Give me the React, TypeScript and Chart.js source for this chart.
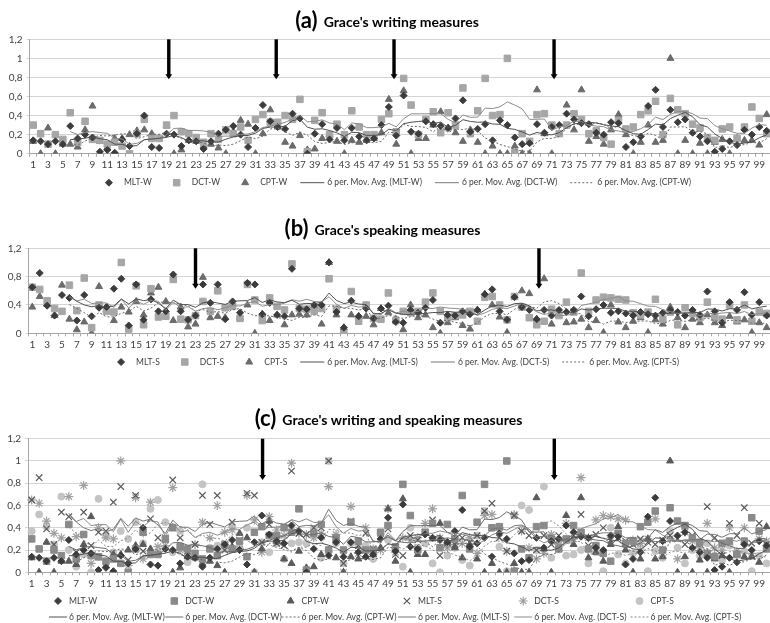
import React, { useEffect, useRef } from 'react';
import { Chart, registerables } from 'chart.js';
import { drawPoint } from 'chart.js/helpers';

Chart.register(...registerables);

// ---------- data ----------
const categories = Array.from({ length: 100 }, (_, i) => String(i + 1));

const mltW = [
  0.14, 0.13, 0.10, 0.13, 0.10, 0.29, 0.16, 0.20, 0.17, 0.02,
  0.04, 0.01, 0.15, 0.08, 0.21, 0.40, 0.07, 0.06, 0.21, 0.20,
  0.08, 0.14, 0.13, 0.05, 0.13, 0.21, 0.25, 0.29, 0.20, 0.07,
  0.27, 0.51, 0.34, 0.28, 0.26, 0.42, 0.37, 0.00, 0.21, 0.31,
  0.15, 0.27, 0.14, 0.27, 0.18, 0.14, 0.16, 0.30, 0.49, 0.19,
  0.61, 0.23, 0.21, 0.34, 0.31, 0.29, 0.27, 0.37, 0.56, 0.23,
  0.26, 0.31, 0.14, 0.35, 0.30, 0.17, 0.10, 0.11, 0.31, 0.22,
  0.28, 0.30, 0.42, 0.36, 0.32, 0.31, 0.22, 0.20, 0.33, 0.32,
  0.07, 0.12, 0.18, 0.50, 0.67, 0.28, 0.46, 0.33, 0.36, 0.22,
  0.18, 0.13, 0.02, 0.05, 0.13, 0.09, 0.25, 0.20, 0.28, 0.24,
];
const dctW = [
  0.30, 0.21, 0.10, 0.20, 0.15, 0.43, 0.12, 0.34, 0.15, 0.14,
  0.10, 0.12, 0.08, 0.00, 0.21, 0.36, 0.16, 0.16, 0.30, 0.40,
  0.23, 0.21, 0.17, 0.12, 0.21, 0.15, 0.25, 0.21, 0.28, 0.14,
  0.36, 0.41, 0.33, 0.33, 0.40, 0.36, 0.57, 0.02, 0.35, 0.43,
  0.20, 0.31, 0.20, 0.45, 0.28, 0.20, 0.20, 0.36, 0.42, 0.23,
  0.79, 0.51, 0.20, 0.36, 0.44, 0.22, 0.43, 0.30, 0.69, 0.21,
  0.45, 0.79, 0.40, 0.41, 1.00, 0.01, 0.21, 0.13, 0.41, 0.42,
  0.30, 0.21, 0.30, 0.42, 0.36, 0.21, 0.24, 0.17, 0.10, 0.35,
  0.26, 0.28, 0.41, 0.45, 0.55, 0.20, 0.58, 0.46, 0.42, 0.31,
  0.27, 0.17, 0.14, 0.26, 0.28, 0.16, 0.28, 0.49, 0.37, 0.21,
];
const cptW = [
  0.13, 0.00, 0.27, 0.00, 0.10, 0.10, 0.07, 0.25, 0.50, 0.13,
  0.06, 0.16, 0.16, 0.20, 0.24, 0.25, 0.21, 0.16, 0.29, 0.00,
  0.04, 0.14, 0.13, 0.08, 0.10, 0.06, 0.00, 0.23, 0.35, 0.31,
  0.00, 0.21, 0.46, 0.28, 0.12, 0.08, 0.19, 0.04, 0.05, 0.16,
  0.20, 0.13, 0.00, 0.14, 0.12, 0.14, 0.16, 0.22, 0.57, 0.10,
  0.66, 0.00, 0.16, 0.16, 0.30, 0.44, 0.27, 0.22, 0.13, 0.25,
  0.12, 0.00, 0.08, 0.00, 0.00, 0.08, 0.00, 0.00, 0.67, 0.21,
  0.00, 0.21, 0.51, 0.25, 0.67, 0.13, 0.18, 0.10, 0.25, 0.41,
  0.20, 0.00, 0.12, 0.30, 0.12, 0.14, 1.00, 0.00, 0.14, 0.00,
  0.11, 0.00, 0.12, 0.15, 0.00, 0.16, 0.14, 0.14, 0.09, 0.41,
];
const mltS = [
  0.65, 0.85, 0.39, 0.25, 0.54, 0.50, 0.18, 0.54, 0.24, 0.36,
  0.37, 0.63, 0.77, 0.11, 0.69, 0.19, 0.48, 0.31, 0.31, 0.83,
  0.31, 0.19, 0.25, 0.69, 0.43, 0.69, 0.20, 0.45, 0.29, 0.71,
  0.69, 0.27, 0.43, 0.26, 0.24, 0.91, 0.35, 0.34, 0.40, 0.40,
  1.00, 0.30, 0.08, 0.46, 0.24, 0.35, 0.21, 0.35, 0.39, 0.16,
  0.15, 0.33, 0.29, 0.36, 0.47, 0.15, 0.26, 0.25, 0.31, 0.27,
  0.33, 0.55, 0.62, 0.31, 0.19, 0.51, 0.37, 0.33, 0.20, 0.33,
  0.25, 0.33, 0.30, 0.33, 0.52, 0.24, 0.34, 0.40, 0.29, 0.31,
  0.28, 0.25, 0.30, 0.27, 0.25, 0.29, 0.33, 0.30, 0.25, 0.33,
  0.26, 0.59, 0.31, 0.15, 0.44, 0.33, 0.58, 0.26, 0.44, 0.25,
];
const dctS = [
  0.65, 0.62, 0.46, 0.35, 0.31, 0.68, 0.32, 0.78, 0.08, 0.40,
  0.31, 0.30, 1.00, 0.06, 0.67, 0.12, 0.63, 0.23, 0.24, 0.76,
  0.20, 0.19, 0.25, 0.45, 0.31, 0.60, 0.36, 0.38, 0.21, 0.69,
  0.47, 0.18, 0.50, 0.38, 0.33, 0.98, 0.35, 0.34, 0.31, 0.35,
  0.77, 0.34, 0.00, 0.59, 0.17, 0.40, 0.21, 0.20, 0.57, 0.18,
  0.31, 0.29, 0.31, 0.44, 0.57, 0.31, 0.22, 0.25, 0.26, 0.31,
  0.17, 0.51, 0.52, 0.40, 0.19, 0.52, 0.37, 0.22, 0.12, 0.17,
  0.34, 0.25, 0.44, 0.30, 0.85, 0.31, 0.47, 0.51, 0.50, 0.48,
  0.47, 0.29, 0.26, 0.30, 0.48, 0.20, 0.30, 0.12, 0.36, 0.28,
  0.22, 0.44, 0.22, 0.20, 0.40, 0.19, 0.40, 0.17, 0.30, 0.28,
];
const cptS = [
  0.37, 0.52, 0.41, 0.25, 0.68, 0.20, 0.05, 0.16, 0.00, 0.66,
  0.33, 0.18, 0.37, 0.30, 0.45, 0.26, 0.57, 0.65, 0.45, 0.18,
  0.37, 0.09, 0.13, 0.79, 0.22, 0.24, 0.22, 0.41, 0.22, 0.40,
  0.00, 0.27, 0.18, 0.26, 0.12, 0.26, 0.27, 0.26, 0.39, 0.13,
  1.00, 0.26, 0.08, 0.26, 0.24, 0.24, 0.12, 0.35, 0.29, 0.20,
  0.05, 0.40, 0.22, 0.26, 0.08, 0.00, 0.15, 0.22, 0.11, 0.06,
  0.33, 0.55, 0.40, 0.23, 0.01, 0.51, 0.60, 0.56, 0.20, 0.77,
  0.13, 0.25, 0.15, 0.16, 0.20, 0.08, 0.18, 0.01, 0.40, 0.16,
  0.08, 0.17, 0.22, 0.01, 0.19, 0.13, 0.37, 0.22, 0.08, 0.20,
  0.15, 0.26, 0.15, 0.11, 0.24, 0.16, 0.19, 0.01, 0.15, 0.08,
];

// arrow annotations: category positions and the value where the arrow tip ends
const arrowsA = [19.3, 33.8, 49.7, 71.3];
const arrowTipA = 0.78;
const arrowsB = [23.0, 69.3];
const arrowTipB = 0.63;
const arrowsC = [32.1, 71.4];
const arrowTipC = 0.83;

const yMin = 0;
const yMax = 1.2;
const yStep = 0.2;
const MA_PERIOD = 6;

// ---------- helpers ----------
function movingAverage(values: number[], period: number): (number | null)[] {
  return values.map((_, i) =>
    i < period - 1 ? null : values.slice(i - period + 1, i + 1).reduce((a, b) => a + b, 0) / period
  );
}

const FONT = 'Lato, "Open Sans", sans-serif';
const TEXT = '#404040';
const CW = 776;

const C_MLT = '#3c3c3c';
const C_DCT = '#a6a6a6';
const C_CPT = '#6b6b6b';

type Item = {
  label: string;
  kind: 'marker' | 'line';
  style?: string;
  color: string;
  radius?: number;
  bw?: number;
  dash?: number[];
};

function markerDs(label: string, data: number[], style: string, color: string, radius: number, bw = 1) {
  return {
    label,
    data,
    showLine: false,
    pointStyle: style,
    pointRadius: radius,
    pointHoverRadius: radius,
    pointBackgroundColor: color,
    pointBorderColor: color,
    pointBorderWidth: bw,
    backgroundColor: color,
    borderColor: color,
  };
}

function maDs(label: string, data: number[], color: string, dash: number[] = []) {
  return {
    label,
    data: movingAverage(data, MA_PERIOD),
    pointRadius: 0,
    pointHoverRadius: 0,
    borderColor: color,
    backgroundColor: color,
    borderWidth: 1,
    borderDash: dash,
    fill: false,
    tension: 0,
    spanGaps: false,
  };
}

function drawSymbol(ctx: CanvasRenderingContext2D, it: Item, x0: number, x1: number, y: number) {
  ctx.save();
  if (it.kind === 'line') {
    ctx.strokeStyle = it.color;
    ctx.lineWidth = 1;
    ctx.setLineDash(it.dash || []);
    ctx.beginPath();
    ctx.moveTo(x0, y);
    ctx.lineTo(x1, y);
    ctx.stroke();
  } else {
    ctx.fillStyle = it.color;
    ctx.strokeStyle = it.color;
    ctx.lineWidth = it.bw ?? 1;
    drawPoint(ctx, { pointStyle: it.style as any, radius: it.radius || 3.5, borderWidth: it.bw ?? 1, rotation: 0 } as any, (x0 + x1) / 2, y);
  }
  ctx.restore();
}

type PanelCfg = {
  top: number;
  height: number;
  padTop: number;
  padBottom: number;
  yWidth: number;
  padRight: number;
  title: { prefix: string; text: string; cx: number; baseline: number };
  arrows: number[];
  arrowTip: number;
  datasets: any[];
  legendFont: number;
  legend: { mode: 'flow'; cx: number; y: number; items: Item[] } | { mode: 'grid'; x0: number; colW: number; rows: { y: number; items: Item[] }[] };
};

function makeDecor(cfg: PanelCfg) {
  return {
    id: 'decor',
    afterDatasetsDraw(chart: any) {
      const ctx: CanvasRenderingContext2D = chart.ctx;
      const xs = chart.scales.x;
      const ys = chart.scales.y;
      const yTop = ys.getPixelForValue(yMax);
      const yTip = ys.getPixelForValue(cfg.arrowTip);
      ctx.save();
      ctx.fillStyle = '#000';
      for (const pos of cfg.arrows) {
        const x = xs.getPixelForValue(pos - 1);
        ctx.fillRect(x - 1.7, yTop, 3.4, yTip - yTop - 4);
        ctx.beginPath();
        ctx.moveTo(x - 3.4, yTip - 5);
        ctx.lineTo(x + 3.4, yTip - 5);
        ctx.lineTo(x, yTip);
        ctx.closePath();
        ctx.fill();
      }
      ctx.restore();
    },
    afterDraw(chart: any) {
      const ctx: CanvasRenderingContext2D = chart.ctx;
      ctx.save();
      // title
      const t = cfg.title;
      ctx.fillStyle = '#000';
      ctx.textBaseline = 'alphabetic';
      ctx.textAlign = 'left';
      ctx.font = `bold 22px ${FONT}`;
      const wp = ctx.measureText(t.prefix).width;
      ctx.font = `bold 14px ${FONT}`;
      const wt = ctx.measureText(t.text).width;
      const gap = 6;
      const sx = t.cx - (wp + gap + wt) / 2;
      ctx.font = `bold 22px ${FONT}`;
      ctx.fillText(t.prefix, sx, t.baseline + 1);
      ctx.font = `bold 14px ${FONT}`;
      ctx.fillText(t.text, sx + wp + gap, t.baseline);

      // legend
      ctx.font = `${cfg.legendFont}px ${FONT}`;
      ctx.fillStyle = TEXT;
      ctx.textBaseline = 'middle';
      const lg = cfg.legend;
      if (lg.mode === 'flow') {
        const symW = 24;
        const symGap = 3;
        const itemGap = 13;
        const widths = lg.items.map((it) => symW + symGap + ctx.measureText(it.label).width);
        const total = widths.reduce((a, b) => a + b, 0) + itemGap * (widths.length - 1);
        let x = lg.cx - total / 2;
        lg.items.forEach((it, i) => {
          drawSymbol(ctx, it, x, x + symW, lg.y);
          ctx.fillStyle = TEXT;
          ctx.fillText(it.label, x + symW + symGap, lg.y);
          x += widths[i] + itemGap;
        });
      } else {
        lg.rows.forEach((row) => {
          row.items.forEach((it, k) => {
            const tx = lg.x0 + k * lg.colW;
            if (it.kind === 'line') drawSymbol(ctx, it, tx - 20, tx - 2, row.y);
            else drawSymbol(ctx, it, tx - 16, tx - 6, row.y);
            ctx.fillStyle = TEXT;
            ctx.fillText(it.label, tx, row.y);
          });
        });
      }
      ctx.restore();
    },
  };
}

function buildConfig(cfg: PanelCfg) {
  return {
    type: 'line',
    data: { labels: categories, datasets: cfg.datasets },
    options: {
      responsive: false,
      animation: false,
      devicePixelRatio: 1,
      events: [],
      layout: { padding: { top: cfg.padTop, bottom: cfg.padBottom, left: 0, right: cfg.padRight } },
      plugins: { legend: { display: false }, title: { display: false }, tooltip: { enabled: false } },
      scales: {
        x: {
          type: 'category',
          offset: true,
          grid: { display: true, drawOnChartArea: false, drawTicks: true, tickLength: 3, color: '#a6a6a6', offset: true },
          border: { display: true, color: '#a6a6a6' },
          ticks: {
            autoSkip: false,
            maxRotation: 0,
            minRotation: 0,
            padding: 2,
            color: TEXT,
            font: { family: FONT, size: 10 },
            callback: (_v: any, i: number) => (i % 2 === 0 ? categories[i] : ''),
          },
          afterFit: (s: any) => {
            s.height = 20;
          },
        },
        y: {
          min: yMin,
          max: yMax,
          grid: { color: '#d4d4d4', tickLength: 3, drawTicks: true },
          border: { display: true, color: '#a6a6a6' },
          ticks: {
            stepSize: yStep,
            padding: 4,
            color: TEXT,
            font: { family: FONT, size: 10 },
            callback: (v: number) => String(Math.round(v * 10) / 10).replace('.', ','),
          },
          afterFit: (s: any) => {
            s.width = cfg.yWidth;
          },
        },
      },
    },
    plugins: [makeDecor(cfg)],
  };
}

// ---------- panels ----------
const itemsA: Item[] = [
  { label: 'MLT-W', kind: 'marker', style: 'rectRot', color: C_MLT, radius: 3.5 },
  { label: 'DCT-W', kind: 'marker', style: 'rect', color: C_DCT, radius: 4.6 },
  { label: 'CPT-W', kind: 'marker', style: 'triangle', color: C_CPT, radius: 4 },
  { label: '6 per. Mov. Avg. (MLT-W)', kind: 'line', color: '#505050' },
  { label: '6 per. Mov. Avg. (DCT-W)', kind: 'line', color: '#7a7a7a' },
  { label: '6 per. Mov. Avg. (CPT-W)', kind: 'line', color: '#6a6a6a', dash: [2, 2] },
];
const itemsB: Item[] = [
  { label: 'MLT-S', kind: 'marker', style: 'rectRot', color: C_MLT, radius: 3.5 },
  { label: 'DCT-S', kind: 'marker', style: 'rect', color: C_DCT, radius: 4.6 },
  { label: 'CPT-S', kind: 'marker', style: 'triangle', color: C_CPT, radius: 4 },
  { label: '6 per. Mov. Avg. (MLT-S)', kind: 'line', color: '#505050' },
  { label: '6 per. Mov. Avg. (DCT-S)', kind: 'line', color: '#7a7a7a' },
  { label: '6 per. Mov. Avg. (CPT-S)', kind: 'line', color: '#6a6a6a', dash: [2, 2] },
];
const C2_DCTW = '#8a8a8a';
const C2_CPTW = '#5a5a5a';
const C2_MLTS = '#595959';
const C2_DCTS = '#a0a0a0';
const C2_CPTS = '#c4c4c4';
const itemsC1: Item[] = [
  { label: 'MLT-W', kind: 'marker', style: 'rectRot', color: C_MLT, radius: 3.5 },
  { label: 'DCT-W', kind: 'marker', style: 'rect', color: C2_DCTW, radius: 4.6 },
  { label: 'CPT-W', kind: 'marker', style: 'triangle', color: C2_CPTW, radius: 4 },
  { label: 'MLT-S', kind: 'marker', style: 'crossRot', color: C2_MLTS, radius: 4.5, bw: 1.2 },
  { label: 'DCT-S', kind: 'marker', style: 'star', color: C2_DCTS, radius: 4.5, bw: 1.2 },
  { label: 'CPT-S', kind: 'marker', style: 'circle', color: C2_CPTS, radius: 3.5 },
];
const itemsC2: Item[] = [
  { label: '6 per. Mov. Avg. (MLT-W)', kind: 'line', color: '#505050' },
  { label: '6 per. Mov. Avg. (DCT-W)', kind: 'line', color: '#6a6a6a' },
  { label: '6 per. Mov. Avg. (CPT-W)', kind: 'line', color: '#6a6a6a', dash: [2, 2] },
  { label: '6 per. Mov. Avg. (MLT-S)', kind: 'line', color: '#777777' },
  { label: '6 per. Mov. Avg. (DCT-S)', kind: 'line', color: '#8a8a8a' },
  { label: '6 per. Mov. Avg. (CPT-S)', kind: 'line', color: '#8a8a8a', dash: [2, 2] },
];

const panelA: PanelCfg = {
  top: 0,
  height: 190,
  padTop: 39.3,
  padBottom: 16.3,
  yWidth: 29.5,
  padRight: 3.5,
  title: { prefix: '(a)', text: "Grace's writing measures", cx: 387, baseline: 27.3 },
  arrows: arrowsA,
  arrowTip: arrowTipA,
  datasets: [
    maDs('6 per. Mov. Avg. (MLT-W)', mltW, '#505050'),
    maDs('6 per. Mov. Avg. (DCT-W)', dctW, '#8c8c8c'),
    maDs('6 per. Mov. Avg. (CPT-W)', cptW, '#6a6a6a', [2, 2]),
    markerDs('MLT-W', mltW, 'rectRot', C_MLT, 3.5),
    markerDs('DCT-W', dctW, 'rect', C_DCT, 4.6),
    markerDs('CPT-W', cptW, 'triangle', C_CPT, 4),
  ],
  legendFont: 8.5,
  legend: { mode: 'flow', cx: 394, y: 182.7, items: itemsA },
};

const panelB: PanelCfg = {
  top: 190,
  height: 190,
  padTop: 58.3,
  padBottom: 26.7,
  yWidth: 28.6,
  padRight: 3.8,
  title: { prefix: '(b)', text: "Grace's speaking measures", cx: 382.5, baseline: 44.5 },
  arrows: arrowsB,
  arrowTip: arrowTipB,
  datasets: [
    maDs('6 per. Mov. Avg. (MLT-S)', mltS, '#505050'),
    maDs('6 per. Mov. Avg. (DCT-S)', dctS, '#8c8c8c'),
    maDs('6 per. Mov. Avg. (CPT-S)', cptS, '#6a6a6a', [2, 2]),
    markerDs('MLT-S', mltS, 'rectRot', C_MLT, 3.5),
    markerDs('DCT-S', dctS, 'rect', C_DCT, 4.6),
    markerDs('CPT-S', cptS, 'triangle', C_CPT, 4),
  ],
  legendFont: 8.5,
  legend: { mode: 'flow', cx: 394, y: 172, items: itemsB },
};

const panelC: PanelCfg = {
  top: 380,
  height: 243,
  padTop: 58.7,
  padBottom: 30.7,
  yWidth: 28,
  padRight: 3.1,
  title: { prefix: '(c)', text: "Grace's writing and speaking measures", cx: 388.5, baseline: 44.5 },
  arrows: arrowsC,
  arrowTip: arrowTipC,
  datasets: [
    maDs('6 per. Mov. Avg. (MLT-W)', mltW, '#505050'),
    maDs('6 per. Mov. Avg. (DCT-W)', dctW, '#6a6a6a'),
    maDs('6 per. Mov. Avg. (CPT-W)', cptW, '#6a6a6a', [2, 2]),
    maDs('6 per. Mov. Avg. (MLT-S)', mltS, '#777777'),
    maDs('6 per. Mov. Avg. (DCT-S)', dctS, '#8a8a8a'),
    maDs('6 per. Mov. Avg. (CPT-S)', cptS, '#8a8a8a', [2, 2]),
    markerDs('MLT-W', mltW, 'rectRot', C_MLT, 3.5),
    markerDs('DCT-W', dctW, 'rect', C2_DCTW, 4.6),
    markerDs('CPT-W', cptW, 'triangle', C2_CPTW, 4),
    markerDs('MLT-S', mltS, 'crossRot', C2_MLTS, 4.5, 1.2),
    markerDs('DCT-S', dctS, 'star', C2_DCTS, 4.5, 1.2),
    markerDs('CPT-S', cptS, 'circle', C2_CPTS, 3.5),
  ],
  legendFont: 8.6,
  legend: {
    mode: 'grid',
    x0: 69,
    colW: 116.3,
    rows: [
      { y: 221, items: itemsC1 },
      { y: 237, items: itemsC2 },
    ],
  },
};

function Panel({ cfg }: { cfg: PanelCfg }) {
  const ref = useRef<HTMLCanvasElement>(null);
  useEffect(() => {
    if (!ref.current) return;
    const chart = new Chart(ref.current, buildConfig(cfg) as any);
    return () => chart.destroy();
  }, [cfg]);
  return (
    <div style={{ position: 'absolute', left: 0, top: cfg.top, width: CW, height: cfg.height }}>
      <canvas ref={ref} width={CW} height={cfg.height} style={{ display: 'block', width: CW, height: cfg.height }} />
    </div>
  );
}

export default function App() {
  return (
    <div
      style={{
        position: 'fixed',
        left: 0,
        top: 0,
        width: 770,
        height: 623,
        overflow: 'hidden',
        background: '#ffffff',
      }}
    >
      <Panel cfg={panelA} />
      <Panel cfg={panelB} />
      <Panel cfg={panelC} />
    </div>
  );
}
